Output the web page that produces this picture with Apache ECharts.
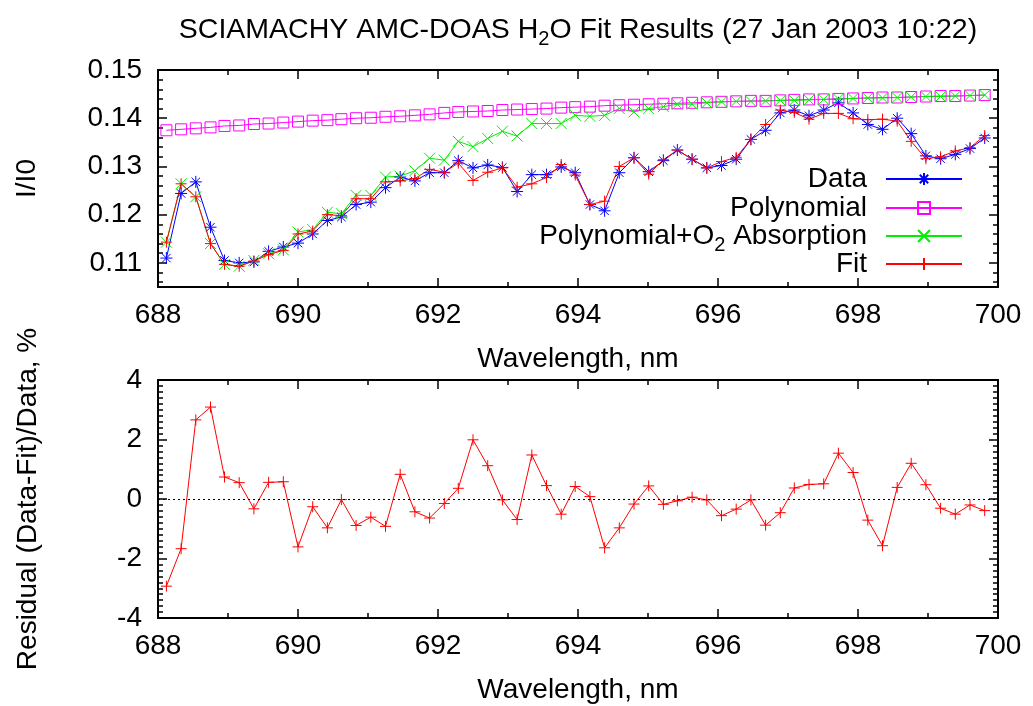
<!DOCTYPE html>
<html>
<head>
<meta charset="utf-8">
<script src="https://cdn.jsdelivr.net/npm/echarts@6/dist/echarts.min.js"></script>
<style>html,body{margin:0;padding:0;background:#fff}#c{width:1033px;height:706px}</style>
</head>
<body>
<div id="c"></div>
<script>
// ---------------- data ----------------
const wavelengths = [
  688.12, 688.33, 688.54, 688.75, 688.95, 689.16, 689.37, 689.58, 689.79, 690.00,
  690.21, 690.42, 690.62, 690.83, 691.04, 691.25, 691.46, 691.67, 691.88, 692.09,
  692.29, 692.50, 692.71, 692.92, 693.13, 693.34, 693.55, 693.76, 693.96, 694.17,
  694.38, 694.59, 694.80, 695.01, 695.22, 695.42, 695.63, 695.84, 696.05, 696.26,
  696.47, 696.68, 696.89, 697.09, 697.30, 697.51, 697.72, 697.93, 698.14, 698.35,
  698.56, 698.76, 698.97, 699.18, 699.39, 699.60, 699.81
];
const dataVals = [
  0.1110, 0.1244, 0.1268, 0.1174, 0.1105, 0.1100, 0.1102, 0.1124, 0.1133, 0.1141,
  0.1160, 0.1188, 0.1195, 0.1221, 0.1226, 0.1256, 0.1278, 0.1270, 0.1287, 0.1287,
  0.1312, 0.1297, 0.1303, 0.1298, 0.1248, 0.1283, 0.1283, 0.1299, 0.1287, 0.1221,
  0.1208, 0.1287, 0.1318, 0.1289, 0.1312, 0.1334, 0.1315, 0.1297, 0.1302, 0.1315,
  0.1356, 0.1375, 0.1411, 0.1417, 0.1405, 0.1417, 0.1432, 0.1411, 0.1387, 0.1377,
  0.1400, 0.1368, 0.1322, 0.1316, 0.1325, 0.1337, 0.1359
];
const polyVals = [
  0.1375, 0.1377, 0.1379, 0.1381, 0.1384, 0.1385, 0.1388, 0.1389, 0.1391, 0.1393,
  0.1395, 0.1396, 0.1398, 0.1400, 0.1401, 0.1403, 0.1404, 0.1406, 0.1408, 0.1411,
  0.1413, 0.1414, 0.1415, 0.1417, 0.1418, 0.1419, 0.1420, 0.1422, 0.1423, 0.1424,
  0.1426, 0.1427, 0.1428, 0.1429, 0.1430, 0.1431, 0.1432, 0.1433, 0.1434, 0.1435,
  0.1436, 0.1436, 0.1437, 0.1438, 0.1439, 0.1439, 0.1440, 0.1441, 0.1442, 0.1443,
  0.1443, 0.1444, 0.1445, 0.1446, 0.1446, 0.1447, 0.1448
];
const polyO2Vals = [
  0.1143, 0.1264, 0.1237, 0.1140, 0.1097, 0.1093, 0.1105, 0.1119, 0.1127, 0.1164,
  0.1169, 0.1205, 0.1202, 0.1240, 0.1240, 0.1278, 0.1280, 0.1291, 0.1317, 0.1313,
  0.1352, 0.1341, 0.1358, 0.1373, 0.1363, 0.1389, 0.1389, 0.1389, 0.1406, 0.1404,
  0.1406, 0.1420, 0.1413, 0.1420, 0.1424, 0.1429, 0.1429, 0.1432, 0.1434, 0.1435,
  0.1435, 0.1436, 0.1437, 0.1437, 0.1438, 0.1439, 0.1440, 0.1441, 0.1442, 0.1442,
  0.1443, 0.1444, 0.1445, 0.1445, 0.1446, 0.1447, 0.1448
];
const fitVals = [
  0.1143, 0.1264, 0.1237, 0.1140, 0.1097, 0.1093, 0.1104, 0.1117, 0.1126, 0.1160,
  0.1166, 0.1200, 0.1198, 0.1233, 0.1233, 0.1268, 0.1270, 0.1275, 0.1294, 0.1288,
  0.1307, 0.1271, 0.1288, 0.1297, 0.1257, 0.1264, 0.1277, 0.1304, 0.1282, 0.1221,
  0.1228, 0.1300, 0.1318, 0.1284, 0.1314, 0.1334, 0.1315, 0.1297, 0.1310, 0.1319,
  0.1356, 0.1387, 0.1417, 0.1412, 0.1398, 0.1410, 0.1410, 0.1399, 0.1397, 0.1398,
  0.1394, 0.1352, 0.1316, 0.1320, 0.1332, 0.1339, 0.1364
];
const residualVals = [
  -2.93, -1.67, 2.66, 3.09, 0.74, 0.55, -0.33, 0.56, 0.58, -1.61,
  -0.26, -0.97, -0.02, -0.89, -0.61, -0.92, 0.83, -0.43, -0.64, -0.15,
  0.36, 1.99, 1.12, -0.03, -0.69, 1.48, 0.45, -0.51, 0.42, 0.08,
  -1.64, -0.97, -0.17, 0.44, -0.18, -0.06, 0.06, -0.03, -0.56, -0.34,
  -0.03, -0.88, -0.46, 0.37, 0.49, 0.51, 1.54, 0.89, -0.71, -1.57,
  0.39, 1.20, 0.48, -0.31, -0.51, -0.20, -0.39
];
const seriesNames = ['Data', 'Polynomial', 'Polynomial+O2 Absorption', 'Fit'];
const topYTicks = [0.11, 0.12, 0.13, 0.14, 0.15];
const topYTickLabels = ['0.11', '0.12', '0.13', '0.14', '0.15'];
const topYMinorTicks = [0.106, 0.108, 0.112, 0.114, 0.116, 0.118, 0.122, 0.124, 0.126, 0.128,
  0.132, 0.134, 0.136, 0.138, 0.142, 0.144, 0.146, 0.148];

// ---------------- chart ----------------
const FONT = '"Liberation Sans", Arial, sans-serif';
const BLACK = '#000';
const pairs = ys => wavelengths.map((x, i) => [x, ys[i]]);

const SYM_STAR = 'path://M0,-10L0,10M-10,0L10,0M-7,-7L7,7M-7,7L7,-7';
const SYM_PLUS = 'path://M0,-10L0,10M-10,0L10,0';
const SYM_CROSS = 'path://M-10,-10L10,10M-10,10L10,-10';
const SYM_SQUARE = 'path://M-10,-10L10,-10L10,10L-10,10Z';

const subRich = { sub: { fontSize: 20, lineHeight: 10, padding: [18, 0, 0, 0], fontFamily: FONT, color: BLACK } };

function xAx(grid, pos, showLabel, name, nameGap) {
  return {
    type: 'value', gridIndex: grid, position: pos, min: 688, max: 700, interval: 2,
    axisLine: { show: true, onZero: false, lineStyle: { color: BLACK, width: 2 } },
    axisTick: { show: true, inside: true, length: 9, lineStyle: { color: BLACK, width: 1.5 } },
    minorTick: { show: true, splitNumber: 2, length: 5, lineStyle: { color: BLACK, width: 1.5 } },
    splitLine: { show: false }, minorSplitLine: { show: false },
    axisLabel: { show: showLabel, fontSize: 28, color: BLACK, fontFamily: FONT, margin: 14,
      showMinLabel: true, showMaxLabel: true },
    name: name || '', nameLocation: 'middle', nameGap: nameGap || 0, nameMoveOverlap: false,
    nameTextStyle: { fontSize: 28, color: BLACK, fontFamily: FONT }
  };
}
function topYAx(pos, showLabel, ticks, tickLen, showLine, name) {
  return {
    type: 'value', gridIndex: 0, position: pos, min: 0.105, max: 0.15,
    axisLine: { show: showLine, onZero: false, lineStyle: { color: BLACK, width: 2 } },
    axisTick: { show: true, inside: true, length: tickLen, customValues: ticks,
      lineStyle: { color: BLACK, width: 1.5 } },
    splitLine: { show: false },
    axisLabel: { show: showLabel, customValues: topYTicks, fontSize: 28, color: BLACK, fontFamily: FONT,
      margin: 16, formatter: v => {
        const k = topYTicks.findIndex(t => Math.abs(t - v) < 1e-9);
        return k >= 0 ? topYTickLabels[k] : '';
      } },
    name: name || '', nameLocation: 'middle', nameGap: 117, nameMoveOverlap: false,
    nameTextStyle: { fontSize: 28, color: BLACK, fontFamily: FONT }
  };
}
function botYAx(pos, showLabel, name) {
  return {
    type: 'value', gridIndex: 1, position: pos, min: -4, max: 4, interval: 2,
    axisLine: { show: true, onZero: false, lineStyle: { color: BLACK, width: 2 } },
    axisTick: { show: true, inside: true, length: 9, lineStyle: { color: BLACK, width: 1.5 } },
    minorTick: { show: true, splitNumber: 10, length: 5, lineStyle: { color: BLACK, width: 1.5 } },
    splitLine: { show: false }, minorSplitLine: { show: false },
    axisLabel: { show: showLabel, fontSize: 28, color: BLACK, fontFamily: FONT, margin: 16,
      showMinLabel: true, showMaxLabel: true },
    name: name || '', nameLocation: 'middle', nameGap: 116, nameMoveOverlap: false,
    nameTextStyle: { fontSize: 28, color: BLACK, fontFamily: FONT }
  };
}

function lineSeries(name, vals, color, symbol, size) {
  return {
    name, type: 'line', xAxisIndex: 0, yAxisIndex: 0, data: pairs(vals),
    symbol, symbolSize: size, showSymbol: true,
    lineStyle: { color, width: 1 },
    itemStyle: { color: 'rgba(0,0,0,0)', borderColor: color, borderWidth: 1 },
    emphasis: { disabled: true }, animation: false
  };
}

// one legend per entry so that each row sits where the reference puts it
const legendTops = [165, 194, 217, 250];
const legends = seriesNames.map((n, i) => ({
  orient: 'vertical', align: 'right', right: 70, top: legendTops[i], padding: 0,
  itemWidth: 76, itemHeight: 15, selectedMode: false,
  data: [n],
  formatter: s => s === 'Polynomial+O2 Absorption' ? 'Polynomial+O{sub|2} Absorption' : s,
  textStyle: { fontSize: 28, lineHeight: 28, color: BLACK, fontFamily: FONT, padding: [0, 14, 0, 0], rich: subRich }
}));

const option = {
  animation: false,
  backgroundColor: '#fff',
  title: {
    text: 'SCIAMACHY AMC-DOAS H{sub|2}O Fit Results (27 Jan 2003 10:22)',
    left: 578, top: 16, textAlign: 'center', padding: 0,
    textStyle: { fontSize: 28.5, fontWeight: 'normal', color: BLACK, fontFamily: FONT, lineHeight: 28, rich: subRich }
  },
  legend: legends,
  grid: [
    { left: 158, top: 70, width: 840, height: 217 },
    { left: 158, top: 380, width: 840, height: 238 }
  ],
  xAxis: [
    xAx(0, 'bottom', true, 'Wavelength, nm', 58),
    xAx(0, 'top', false),
    xAx(1, 'bottom', true, 'Wavelength, nm', 58),
    xAx(1, 'top', false)
  ],
  yAxis: [
    topYAx('left', true, topYTicks, 9, true, 'I/I0'),
    topYAx('right', false, topYTicks, 9, true),
    topYAx('left', false, topYMinorTicks, 5, false),
    topYAx('right', false, topYMinorTicks, 5, false),
    botYAx('left', true, 'Residual (Data-Fit)/Data, %'),
    botYAx('right', false)
  ],
  series: [
    lineSeries(seriesNames[0], dataVals, '#0000ff', SYM_STAR, 12),
    lineSeries(seriesNames[1], polyVals, '#ff00ff', SYM_SQUARE, 11),
    lineSeries(seriesNames[2], polyO2Vals, '#00ee00', SYM_CROSS, 11),
    lineSeries(seriesNames[3], fitVals, '#ff0000', SYM_PLUS, 11),
    {
      name: 'Residual', type: 'line', xAxisIndex: 2, yAxisIndex: 4, data: pairs(residualVals),
      symbol: SYM_PLUS, symbolSize: 11, showSymbol: true,
      lineStyle: { color: '#ff0000', width: 1 },
      itemStyle: { color: 'rgba(0,0,0,0)', borderColor: '#ff0000', borderWidth: 1 },
      emphasis: { disabled: true }, animation: false,
      markLine: {
        silent: true, symbol: ['none', 'none'], label: { show: false }, animation: false,
        lineStyle: { color: BLACK, type: [2, 3], width: 1 },
        data: [{ yAxis: 0 }]
      }
    }
  ]
};

const chart = echarts.init(document.getElementById('c'), null, { renderer: 'canvas' });
chart.setOption(option);
</script>
</body>
</html>
